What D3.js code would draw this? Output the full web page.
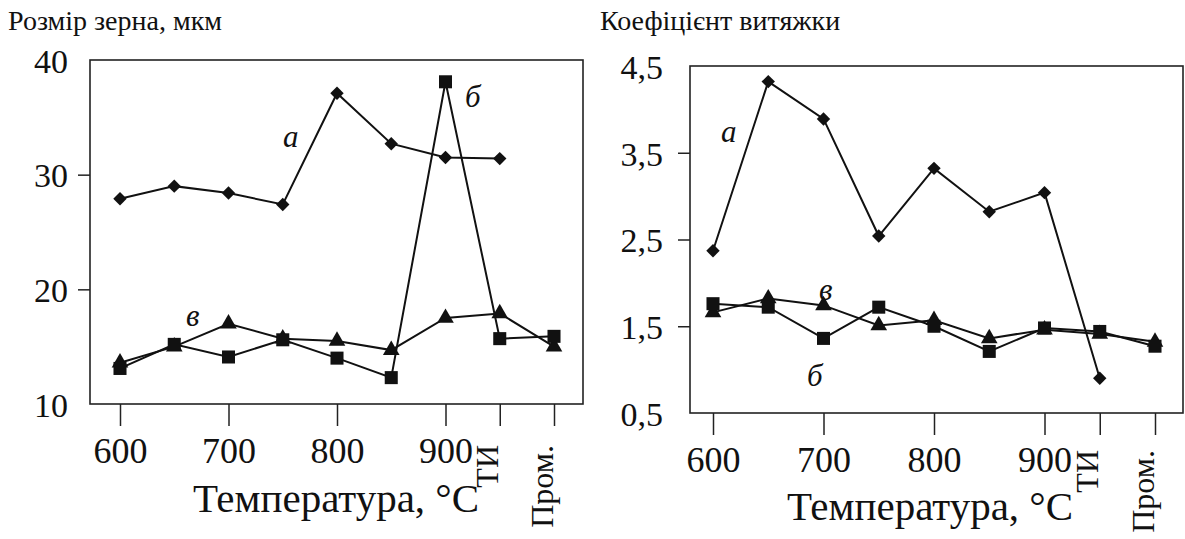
<!DOCTYPE html>
<html>
<head>
<meta charset="utf-8">
<script src="https://cdn.jsdelivr.net/npm/d3@7"></script>
<style>
  html, body { margin: 0; padding: 0; background: #fff; }
  svg { display: block; }
  text { font-family: "Liberation Serif", "Times New Roman", serif; fill: #111; }
</style>
</head>
<body>
<svg id="chart" width="1185" height="539"></svg>
<script>
// Temperature steps along the x axis (ТИ and Пром. are extra treatments)
const categories = ["600", "650", "700", "750", "800", "850", "900", "ТИ", "Пром."];
const xTickLabels = ["600", "700", "800", "900", "ТИ", "Пром."];

// Left panel: grain size, µm
const grainTicks = [10, 20, 30, 40];
const grainA = [27.9, 29.0, 28.4, 27.4, 37.1, 32.7, 31.5, 31.4, null];
const grainB = [13.1, 15.2, 14.1, 15.6, 14.0, 12.3, 38.1, 15.7, 15.9];
const grainV = [13.6, 15.0, 17.0, 15.7, 15.5, 14.7, 17.5, 17.9, 15.0];

// Right panel: drawing coefficient
const drawTicks = [0.5, 1.5, 2.5, 3.5, 4.5];
const drawA = [2.37, 4.32, 3.89, 2.54, 3.32, 2.82, 3.04, 0.9, null];
const drawB = [1.76, 1.72, 1.36, 1.72, 1.5, 1.21, 1.48, 1.44, 1.27];
const drawV = [1.66, 1.82, 1.74, 1.51, 1.57, 1.36, 1.46, 1.41, 1.32];

const svg = d3.select("#chart");

function panel(cfg) {
  const g = svg.append("g");
  const x = d3.scalePoint().domain(categories).range([cfg.x0, cfg.x1]);
  const y = d3.scaleLinear().domain(cfg.yDomain).range([cfg.bottom, cfg.top]);

  // frame
  g.append("rect")
    .attr("x", cfg.left).attr("y", cfg.top)
    .attr("width", cfg.right - cfg.left).attr("height", cfg.bottom - cfg.top)
    .attr("fill", "none").attr("stroke", "#222").attr("stroke-width", 1.6);

  // y axis: outward ticks on the inner values, labels on all
  const yAxis = d3.axisLeft(y).tickValues(cfg.yTicks).tickSize(0).tickPadding(0)
    .tickFormat(cfg.yFormat);
  const ya = g.append("g").attr("transform", `translate(${cfg.left},0)`).call(yAxis);
  ya.select(".domain").remove();
  ya.selectAll(".tick text").remove();
  ya.selectAll(".tick").each(function (d, i) {
    const t = d3.select(this);
    if (i > 0 && i < cfg.yTicks.length - 1) {
      t.append("line").attr("x1", -12).attr("x2", 0)
        .attr("stroke", "#222").attr("stroke-width", 1.5);
    }
    t.append("text")
      .attr("x", cfg.yLabelX - cfg.left)
      .attr("dy", "0.36em")
      .attr("text-anchor", "end")
      .style("font-size", cfg.yFont + "px")
      .text(cfg.yFormat(d));
  });

  // x axis ticks below the frame
  const xAxis = d3.axisBottom(x).tickValues(xTickLabels).tickSize(22).tickFormat("");
  const xa = g.append("g").attr("transform", `translate(0,${cfg.bottom})`).call(xAxis);
  xa.select(".domain").remove();
  xa.selectAll(".tick line").attr("stroke", "#222").attr("stroke-width", 1.5);
  xa.selectAll(".tick").each(function (d) {
    const t = d3.select(this);
    if (d === "ТИ" || d === "Пром.") {
      t.append("text")
        .attr("transform", `translate(${-2},${cfg.rotTop - cfg.bottom}) rotate(-90)`)
        .attr("text-anchor", "end")
        .style("font-size", "32px")
        .text(d);
    } else {
      t.append("text")
        .attr("y", cfg.xLabelBase - cfg.bottom)
        .attr("text-anchor", "middle")
        .style("font-size", "36px")
        .text(d);
    }
  });

  // axis titles
  g.append("text").attr("x", cfg.titleX).attr("y", 30)
    .style("font-size", "28px").text(cfg.title);
  g.append("text").attr("x", cfg.xTitleX).attr("y", cfg.xTitleBase)
    .attr("text-anchor", "middle")
    .style("font-size", "41px").text("Температура, °C");

  const line = d3.line()
    .defined(d => d.v !== null)
    .x(d => x(d.c)).y(d => y(d.v));

  function series(vals, shape) {
    const pts = categories.map((c, i) => ({ c, v: vals[i] }));
    g.append("path").datum(pts)
      .attr("d", line)
      .attr("fill", "none").attr("stroke", "#111").attr("stroke-width", 2);
    const sym = d3.symbol().type(shape.type).size(shape.size);
    g.selectAll(null).data(pts.filter(p => p.v !== null)).enter()
      .append("path")
      .attr("d", sym)
      .attr("transform", p => `translate(${x(p.c)},${y(p.v)})${shape.rot || ""}`)
      .attr("fill", "#111");
  }
  series(cfg.a, { type: d3.symbolSquare, size: 90, rot: " rotate(45)" });
  series(cfg.v, { type: d3.symbolTriangle, size: 120 });
  series(cfg.b, { type: d3.symbolSquare, size: 170 });

  // series letters
  cfg.letters.forEach(l => {
    g.append("text").attr("x", l.x).attr("y", l.y)
      .style("font-size", "31px").style("font-style", "italic").text(l.t);
  });
}

panel({
  left: 90, right: 583, top: 60, bottom: 404,
  x0: 120, x1: 554,
  yDomain: [10, 40], yTicks: grainTicks, yFormat: d3.format("d"),
  yLabelX: 68, yFont: 34,
  xLabelBase: 463, rotTop: 445,
  title: "Розмір зерна, мкм", titleX: 8,
  xTitleX: 336, xTitleBase: 512,
  a: grainA, b: grainB, v: grainV,
  letters: [
    { t: "а", x: 283, y: 147 },
    { t: "б", x: 465, y: 107 },
    { t: "в", x: 186, y: 326 }
  ]
});

panel({
  left: 690, right: 1183, top: 66, bottom: 413,
  x0: 713, x1: 1155,
  yDomain: [0.5, 4.5], yTicks: drawTicks, yFormat: v => d3.format(".1f")(v).replace(".", ","),
  yLabelX: 663, yFont: 34,
  xLabelBase: 472, rotTop: 450,
  title: "Коефіцієнт витяжки", titleX: 600,
  xTitleX: 930, xTitleBase: 520,
  a: drawA, b: drawB, v: drawV,
  letters: [
    { t: "а", x: 721, y: 142 },
    { t: "в", x: 819, y: 300 },
    { t: "б", x: 807, y: 386 }
  ]
});
</script>
</body>
</html>
